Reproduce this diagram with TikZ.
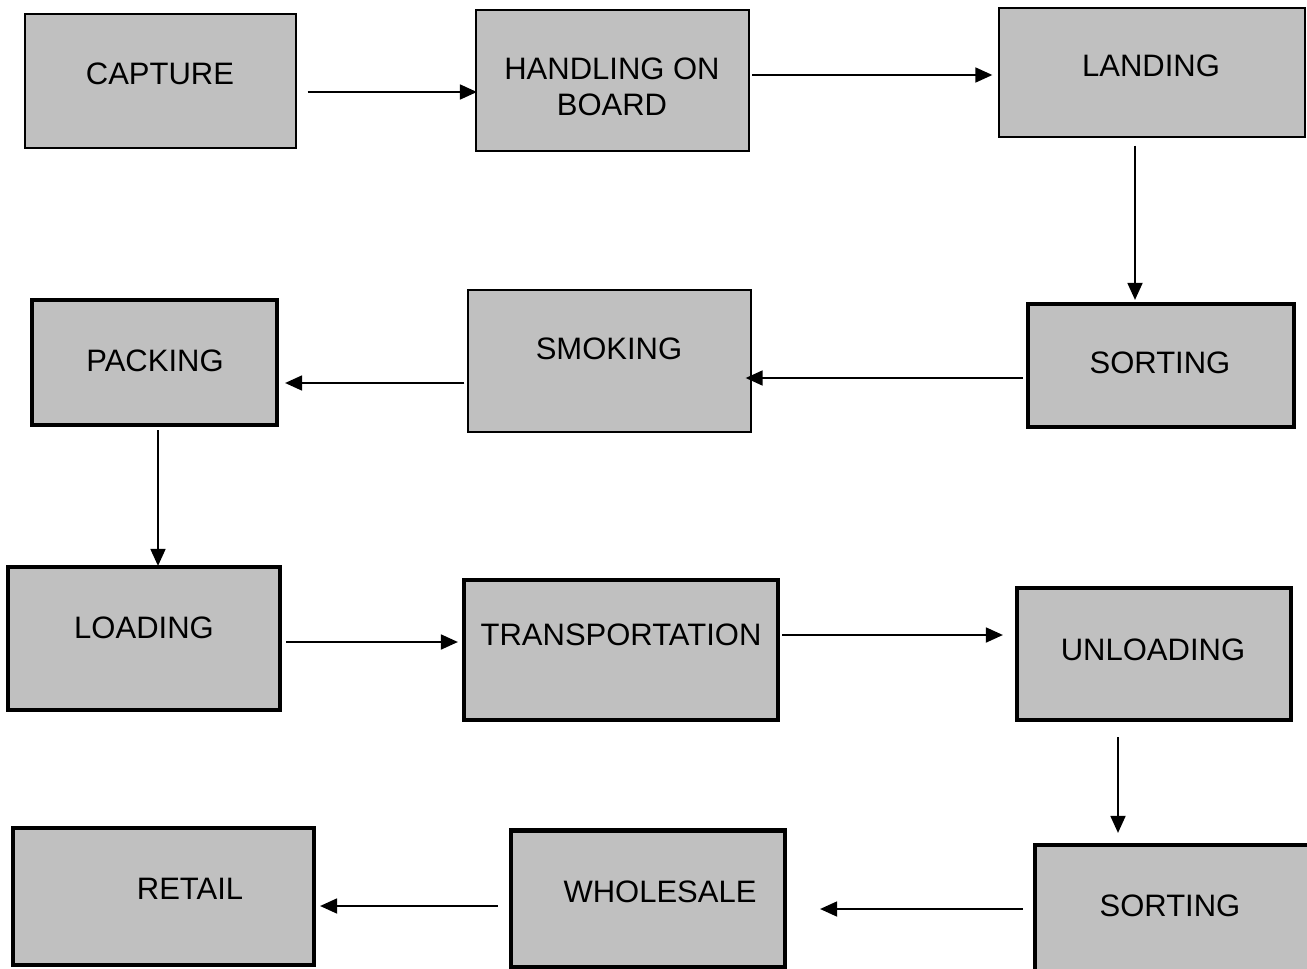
\documentclass[tikz,border=0pt]{standalone}
\usepackage{fontspec}
\setmainfont{Liberation Sans}
\usetikzlibrary{arrows.meta}
\begin{document}
\begin{tikzpicture}[x=1pt,y=-1pt,
  boxbase/.style={draw=black, fill=boxgray, inner sep=0pt, anchor=center},
  thinbox/.style={boxbase, line width=1.3pt},
  medbox/.style={boxbase, line width=2.2pt},
  thickbox/.style={boxbase, line width=4.2pt},
  lbl/.style={font=\fontsize{31}{36}\selectfont, inner sep=0pt, align=center, anchor=center},
  arr/.style={line width=1.8pt, -{Triangle[length=17pt,width=15pt]}}]
\definecolor{boxgray}{HTML}{C0C0C0}
\useasboundingbox (0,0) rectangle (1307,969);
% boxes
\node[thinbox, minimum width=271pt, minimum height=134pt] (b1) at (160.5,81) {};
\node[medbox, minimum width=273pt, minimum height=141pt] (b2) at (612.5,80.5) {};
\node[thinbox, minimum width=306pt, minimum height=129pt] (b3) at (1152,72.5) {};
\node[thickbox, minimum width=266pt, minimum height=123pt] (b4) at (1161,365.5) {};
\node[thinbox, minimum width=283pt, minimum height=142pt] (b5) at (609.5,361) {};
\node[thickbox, minimum width=245pt, minimum height=125pt] (b6) at (154.5,362.5) {};
\node[thickbox, minimum width=272pt, minimum height=143pt] (b7) at (144,638.5) {};
\node[thickbox, minimum width=314pt, minimum height=140pt] (b8) at (621,650) {};
\node[thickbox, minimum width=274pt, minimum height=132pt] (b9) at (1154,654) {};
\node[thickbox, minimum width=275pt, minimum height=127pt] (b10) at (1172.5,908.5) {};
\node[thickbox, minimum width=274pt, minimum height=137pt] (b11) at (648,899) {};
\node[thickbox, minimum width=301pt, minimum height=137pt] (b12) at (163.5,896.5) {};
% labels
\node[lbl] (t1) at (160,74) {CAPTURE};
\node[lbl] (t2) at (612,87) {HANDLING ON\\BOARD};
\node[lbl] (t3) at (1151,66) {LANDING};
\node[lbl] (t4) at (1160,363) {SORTING};
\node[lbl] (t5) at (609,349) {SMOKING};
\node[lbl] (t6) at (155,361) {PACKING};
\node[lbl] (t7) at (144,628) {LOADING};
\node[lbl] (t8) at (621,635) {TRANSPORTATION};
\node[lbl] (t9) at (1153,650) {UNLOADING};
\node[lbl] (t10) at (1170,906) {SORTING};
\node[lbl] (t11) at (660,892) {WHOLESALE};
\node[lbl] (t12) at (190,889) {RETAIL};
% connectors
\draw[arr] ([shift={(11,11)}]b1.east) -- ([shift={(2,11.5)}]b2.west);
\draw[arr] ([shift={(2,-5.5)}]b2.east) -- ([shift={(-6,2.5)}]b3.west);
\draw[arr] ([shift={(-17,8)}]b3.south) -- ([shift={(-26,-2)}]b4.north);
\draw[arr] ([shift={(-3,12.5)}]b4.west) -- ([shift={(-6,17)}]b5.east);
\draw[arr] ([shift={(-3,22)}]b5.west) -- ([shift={(6,20.5)}]b6.east);
\draw[arr] ([shift={(3.5,3)}]b6.south) -- ([shift={(3.5,1)}]b7.north -| b6.south);
\draw[arr] ([shift={(4,3.5)}]b7.east) -- ([shift={(-4,-8)}]b8.west);
\draw[arr] ([shift={(2,-15)}]b8.east) -- ([shift={(-12,-19)}]b9.west);
\draw[arr] ([shift={(-36,15)}]b9.south) -- ([shift={(-54.5,-10)}]b10.north);
\draw[arr] ([shift={(-10,0.5)}]b10.west) -- ([shift={(33,10)}]b11.east);
\draw[arr] ([shift={(-11,7)}]b11.west) -- ([shift={(4,9.5)}]b12.east);
\end{tikzpicture}
\end{document}
